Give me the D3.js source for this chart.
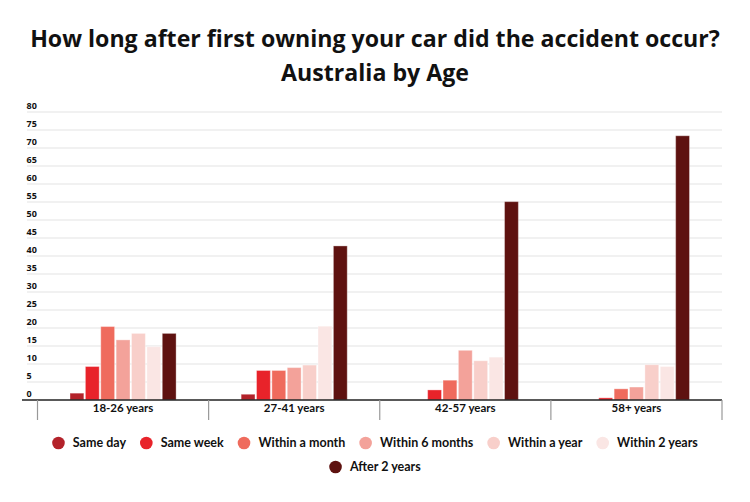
<!DOCTYPE html>
<html>
<head>
<meta charset="utf-8">
<script src="https://cdn.jsdelivr.net/npm/d3@7"></script>
<style>
  html, body { margin: 0; padding: 0; background: #fff; }
  svg { display: block; }
</style>
</head>
<body>
<svg id="chart" width="750" height="502"></svg>
<script>
// ---- data ----
const categories = ["18-26 years", "27-41 years", "42-57 years", "58+ years"];
const seriesNames = ["Same day", "Same week", "Within a month", "Within 6 months", "Within a year", "Within 2 years", "After 2 years"];
const seriesColors = ["#b3222a", "#e8232a", "#ef6b5d", "#f3a29a", "#f8cfca", "#fae6e4", "#5e1210"];
const sameDay       = [1.9, 1.6, 0,    0];
const sameWeek      = [9.3, 8.2, 2.8,  0.6];
const withinMonth   = [20.4, 8.2, 5.5, 3.1];
const within6Months = [16.7, 9.0, 13.8, 3.6];
const withinYear    = [18.5, 9.7, 10.9, 9.8];
const within2Years  = [14.8, 20.5, 11.9, 9.3];
const after2Years   = [18.5, 42.8, 55.1, 73.4];
const yTicks = [0, 5, 10, 15, 20, 25, 30, 35, 40, 45, 50, 55, 60, 65, 70, 75, 80];
const titleLines = ["How long after first owning your car did the accident occur?", "Australia by Age"];

const seriesValues = [sameDay, sameWeek, withinMonth, within6Months, withinYear, within2Years, after2Years];

const svg = d3.select("#chart");
const W = 750, H = 502;

// ---- title ----
const titleFont = "'Open Sans', 'DejaVu Sans', sans-serif";
const t1 = svg.append("text")
  .attr("x", W / 2).attr("y", 47)
  .attr("text-anchor", "middle")
  .attr("font-family", titleFont).attr("font-weight", 700)
  .attr("font-size", 21).attr("fill", "#111")
  .text(titleLines[0]);
const targetW = 690;
let fs = 21 * targetW / t1.node().getComputedTextLength();
t1.attr("font-size", fs);
svg.append("text")
  .attr("x", W / 2).attr("y", 81)
  .attr("text-anchor", "middle")
  .attr("font-family", titleFont).attr("font-weight", 700)
  .attr("font-size", fs).attr("fill", "#111")
  .text(titleLines[1]);

// ---- scales ----
const plotLeft = 37.5, plotRight = 722, plotTop = 112, plotBottom = 400;
const x0 = d3.scaleBand().domain(categories).range([plotLeft, plotRight]).padding(0);
const x1 = d3.scaleBand().domain(seriesNames)
  .range([x0.bandwidth() * 0.19, x0.bandwidth() * 0.81]).paddingInner(0.1).paddingOuter(0);
const y = d3.scaleLinear().domain([0, 80]).range([plotBottom, plotTop]);

const labelFont = "Lato, 'Open Sans', sans-serif";

// ---- gridlines ----
const grid = svg.append("g");
grid.selectAll("line").data(yTicks.filter(d => d > 0)).join("line")
  .attr("x1", 27).attr("x2", plotRight)
  .attr("y1", d => y(d)).attr("y2", d => y(d))
  .attr("stroke", "#ececec").attr("stroke-width", 1.5);

// y labels
svg.append("g").selectAll("text").data(yTicks).join("text")
  .attr("x", 26.5).attr("y", d => y(d) - 3)
  .attr("font-family", "'Open Sans', sans-serif").attr("font-weight", 700)
  .attr("font-size", 9).attr("fill", "#111")
  .text(d => d);

// ---- bars ----
const groups = svg.append("g").selectAll("g").data(categories).join("g")
  .attr("transform", d => `translate(${x0(d)},0)`);
groups.selectAll("rect")
  .data((c, ci) => seriesNames.map((s, si) => ({ s, si, v: seriesValues[si][ci] })))
  .join("rect")
  .filter(d => d.v > 0)
  .attr("x", d => x1(d.s))
  .attr("width", x1.bandwidth())
  .attr("y", d => y(d.v))
  .attr("height", d => y(0) - y(d.v))
  .attr("fill", d => seriesColors[d.si])
  .attr("stroke", "rgba(255,255,255,0.35)")
  .attr("stroke-width", 1);

// ---- x axis ----
const xAxis = svg.append("g");
xAxis.append("line")
  .attr("x1", 22).attr("x2", plotRight)
  .attr("y1", plotBottom).attr("y2", plotBottom)
  .attr("stroke", "#222").attr("stroke-width", 1.5);
const edges = categories.map(c => x0(c)).concat([plotRight]);
xAxis.selectAll("line.tick").data(edges).join("line")
  .attr("class", "tick")
  .attr("x1", d => d).attr("x2", d => d)
  .attr("y1", plotBottom).attr("y2", 420)
  .attr("stroke", "#999").attr("stroke-width", 1.2);
xAxis.selectAll("text").data(categories).join("text")
  .attr("x", d => x0(d) + x0.bandwidth() / 2)
  .attr("y", 412)
  .attr("text-anchor", "middle")
  .attr("font-family", labelFont).attr("font-weight", 700)
  .attr("font-size", 11.5).attr("fill", "#111")
  .text(d => d);

// ---- legend ----
const legend = svg.append("g");
const rows = [seriesNames.slice(0, 6), seriesNames.slice(6)];
const rowY = [443, 467];
const r = 6.3, textGap = 14.4, itemGap = 14;
rows.forEach((row, ri) => {
  const items = row.map(name => {
    const g = legend.append("g");
    g.append("circle").attr("r", r).attr("cx", r).attr("cy", 0)
      .attr("fill", seriesColors[seriesNames.indexOf(name)]);
    const t = g.append("text").attr("x", r + textGap).attr("y", 4.3)
      .attr("font-family", labelFont).attr("font-weight", 700)
      .attr("font-size", 12.5).attr("fill", "#111").text(name);
    const w = r + textGap + t.node().getComputedTextLength();
    return { g, w };
  });
  const total = d3.sum(items, d => d.w) + itemGap * (items.length - 1);
  let cx = W / 2 - total / 2;
  items.forEach(it => {
    it.g.attr("transform", `translate(${cx},${rowY[ri]})`);
    cx += it.w + itemGap;
  });
});
</script>
</body>
</html>
